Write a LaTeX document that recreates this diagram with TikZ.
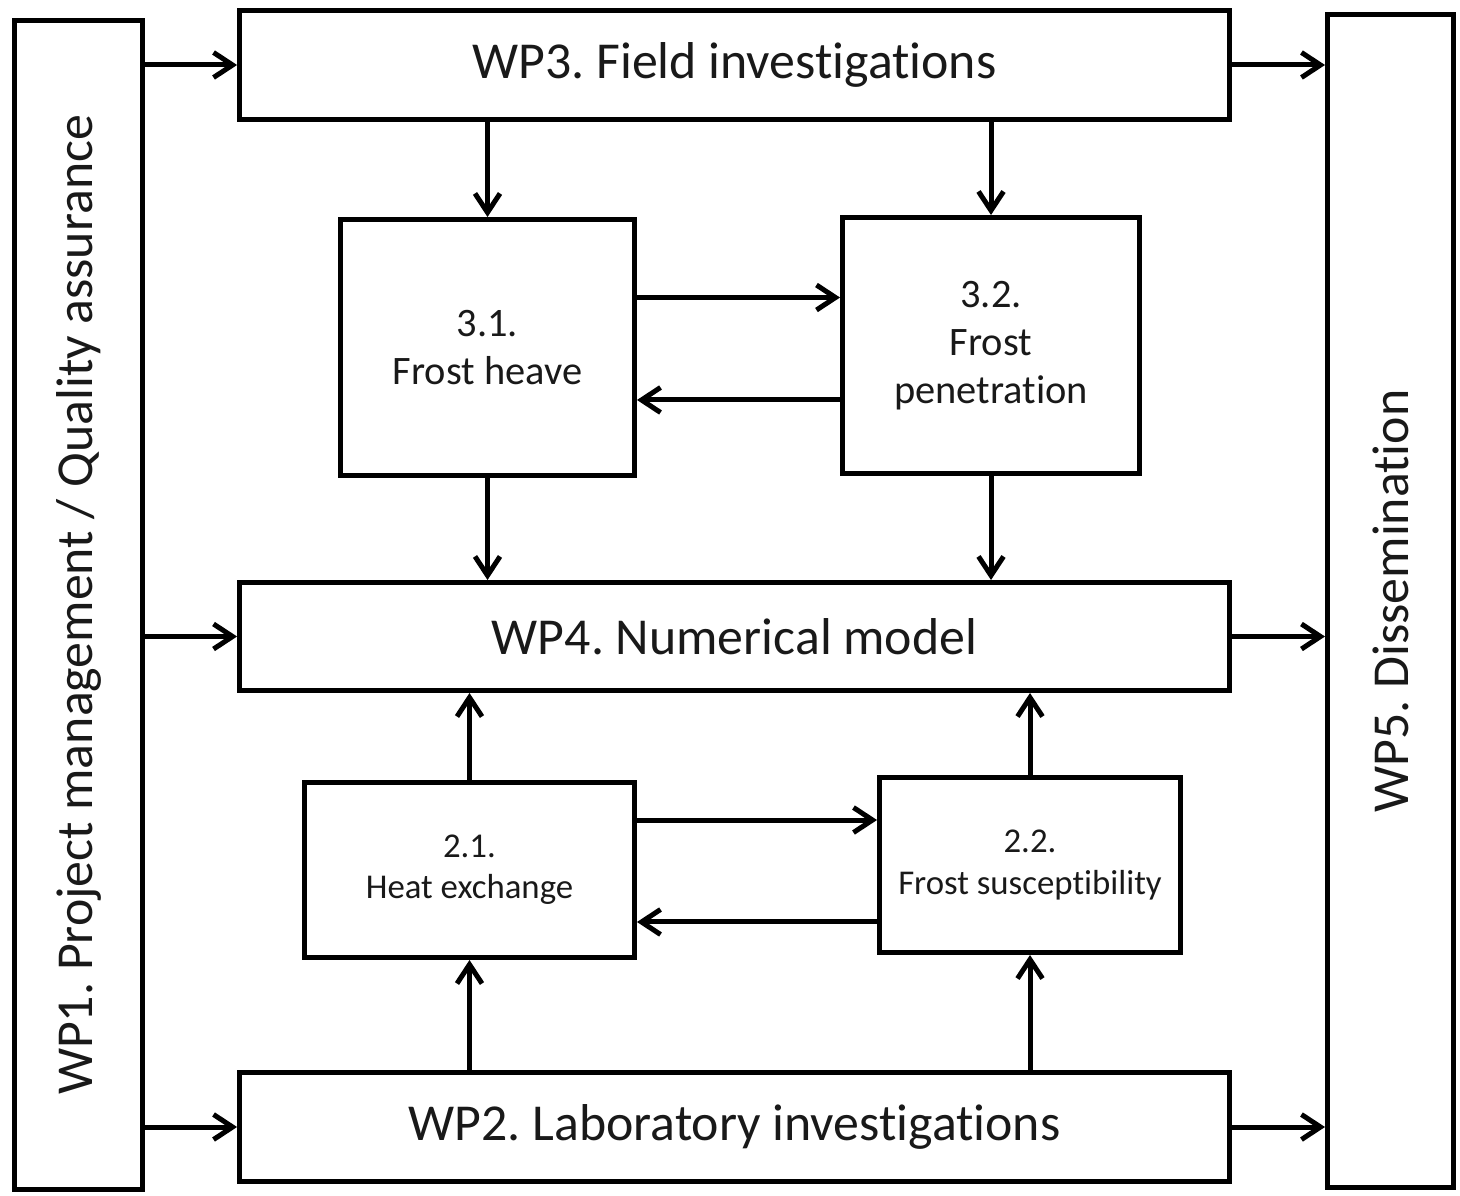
\documentclass[tikz,border=0pt]{standalone}
\usepackage{fontspec}
\setmainfont{Carlito}[Ligatures=NoCommon]
\frenchspacing
\usetikzlibrary{arrows.meta}

\begin{document}
\begin{tikzpicture}[x=0.02cm,y=-0.02cm,
           wp_style/.style={rectangle,draw=black,line width=0.1cm,inner sep=0pt,text=black!90,font=\fontsize{29.5}{35}\selectfont},
           side_style/.style={wp_style,rotate=90},
           task_style/.style={rectangle,draw=black,line width=0.1cm,inner sep=0pt,align=center,text=black!90,font=\fontsize{23}{27.5}\selectfont},
           subtask_style/.style={task_style,font=\fontsize{19.8}{23.5}\selectfont},
           edge_style/.style={draw=black,line width=0.1cm,-{Straight Barb[length=0.38cm,width=0.5cm]}}]
            \useasboundingbox (0,0) rectangle (1460,1196);
            \node[side_style,minimum width=23.38cm,minimum height=2.56cm] (wp1) at (78.5, 605)  {WP1. Project management / Quality assurance};
            \node[side_style,minimum width=23.46cm,minimum height=2.52cm] (wp5) at (1390.5, 601)  {WP5. Dissemination};
            \node[wp_style,minimum width=19.8cm,minimum height=2.18cm] (wp3) at (734.5, 65)  {WP3. Field investigations};
            \node[wp_style,minimum width=19.8cm,minimum height=2.16cm] (wp4) at (734.5, 636.5)  {WP4. Numerical model};
            \node[wp_style,minimum width=19.8cm,minimum height=2.18cm] (wp2) at (734.5, 1127)  {WP2. Laboratory investigations};
            \node[task_style,minimum width=5.88cm,minimum height=5.12cm] (t31) at (487.5, 347.5)  {3.1.\\Frost heave};
            \node[task_style,minimum width=5.94cm,minimum height=5.12cm] (t32) at (991, 345.5)  {3.2.\\Frost\\penetration};
            \node[subtask_style,minimum width=6.6cm,minimum height=3.5cm] (t21) at (469.5, 870)  {2.1.\\Heat exchange};
            \node[subtask_style,minimum width=6.02cm,minimum height=3.5cm] (t22) at (1030, 865)  {2.2.\\Frost susceptibility};
            \draw[edge_style]  (wp1.south |- wp3.west) -- (wp3.west);
            \draw[edge_style]  (wp1.south |- wp4.west) -- (wp4.west);
            \draw[edge_style]  (wp1.south |- wp2.west) -- (wp2.west);
            \draw[edge_style]  (wp3.east) -- (wp3.east -| wp5.north);
            \draw[edge_style]  (wp4.east) -- (wp4.east -| wp5.north);
            \draw[edge_style]  (wp2.east) -- (wp2.east -| wp5.north);
            \draw[edge_style]  (wp3.south -| t31.north) -- (t31.north);
            \draw[edge_style]  (wp3.south -| t32.north) -- (t32.north);
            \draw[edge_style]  ([yshift=1cm]t31.east) -- ([yshift=1cm]t31.east -| t32.west);
            \draw[edge_style]  ([yshift=-1.09cm]t32.west) -- ([yshift=-1.09cm]t32.west -| t31.east);
            \draw[edge_style]  (t31.south) -- (t31.south |- wp4.north);
            \draw[edge_style]  (t32.south) -- (t32.south |- wp4.north);
            \draw[edge_style]  (t21.north) -- (t21.north |- wp4.south);
            \draw[edge_style]  (t22.north) -- (t22.north |- wp4.south);
            \draw[edge_style]  ([yshift=1cm]t21.east) -- ([yshift=1cm]t21.east -| t22.west);
            \draw[edge_style]  ([yshift=-1.14cm]t22.west) -- ([yshift=-1.14cm]t22.west -| t21.east);
            \draw[edge_style]  (wp2.north -| t21.south) -- (t21.south);
            \draw[edge_style]  (wp2.north -| t22.south) -- (t22.south);
        \end{tikzpicture}
\end{document}
